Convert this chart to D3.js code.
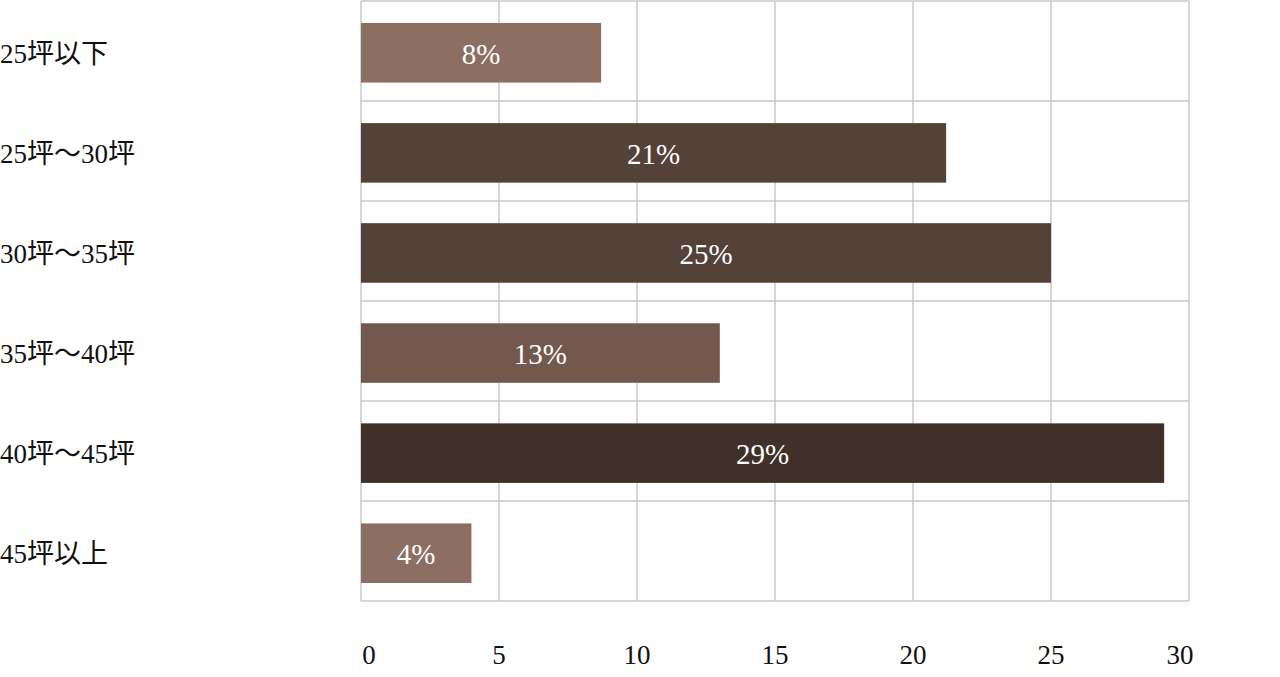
<!DOCTYPE html>
<html><head><meta charset="utf-8">
<script src="https://cdn.jsdelivr.net/npm/d3@7"></script>
<style>
html,body{margin:0;padding:0;background:#fff;}
svg text{font-family:"Liberation Serif","DejaVu Serif","Noto Sans CJK JP",serif;}
</style></head>
<body>
<svg id="chart" width="1280" height="677"></svg>
<script>
const categories = ["25坪以下","25坪～30坪","30坪～35坪","35坪～40坪","40坪～45坪","45坪以上"];
const values = [8.7, 21.2, 25.0, 13.0, 29.1, 4.0];
const valueLabels = ["8%","21%","25%","13%","29%","4%"];
const barColors = ["#8d6e62","#544137","#544137","#73594d","#3f302a","#8d6e62"];
const xTicks = [0,5,10,15,20,25,30];

(function(){
const svg = d3.select("#chart");
const mLeft = 361, mRight = 1189, mTop = 1, mBottom = 601;
const x = d3.scaleLinear().domain([0,30]).range([mLeft,mRight]);
const y = d3.scaleBand().domain(categories).range([mTop,mBottom]).paddingInner(0.405).paddingOuter(0.2);
const rows = d3.scaleBand().domain(categories).range([mTop,mBottom]);
const grid = "#c8c8c8";

svg.append("g").selectAll("line").data(xTicks).join("line")
  .attr("x1",d=>x(d)).attr("x2",d=>x(d)).attr("y1",mTop).attr("y2",mBottom)
  .attr("stroke",grid).attr("stroke-width",1.5);
const hl = categories.map(c=>rows(c)).concat([mBottom]);
svg.append("g").selectAll("line").data(hl).join("line")
  .attr("x1",mLeft).attr("x2",mRight).attr("y1",d=>d).attr("y2",d=>d)
  .attr("stroke",grid).attr("stroke-width",1.5);

const bars = svg.append("g").attr("transform","translate(0,2)");
bars.selectAll("rect").data(categories).join("rect")
  .attr("x",x(0)).attr("y",d=>y(d))
  .attr("width",(d,i)=>x(values[i])-x(0)).attr("height",y.bandwidth())
  .attr("fill",(d,i)=>barColors[i]);

bars.selectAll("text").data(categories).join("text")
  .attr("x",(d,i)=>(x(0)+x(values[i]))/2).attr("y",d=>y(d)+y.bandwidth()/2+1)
  .attr("text-anchor","middle").attr("dominant-baseline","central")
  .attr("fill","#fff").attr("font-size",29).text((d,i)=>valueLabels[i]);

svg.append("g").selectAll("text").data(categories).join("text")
  .attr("x",0).attr("y",d=>rows(d)+rows.bandwidth()/2+3)
  .attr("dominant-baseline","central").attr("fill","#111").attr("font-size",27)
  .text(d=>d);

svg.append("g").selectAll("text").data(xTicks).join("text")
  .attr("x",d=>x(d)+(d===0?8:d===30?-9:0)).attr("y",655)
  .attr("text-anchor","middle").attr("dominant-baseline","central")
  .attr("fill","#111").attr("font-size",27).text(d=>d);
})();
</script>
</body></html>
